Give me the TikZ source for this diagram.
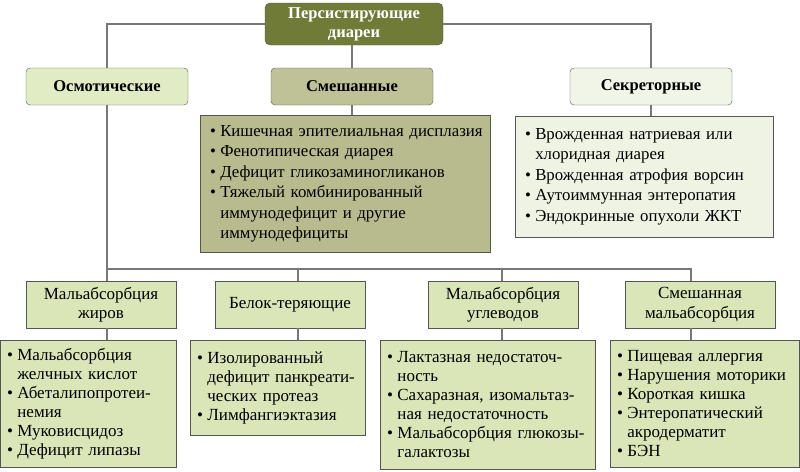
\documentclass[tikz,border=0pt]{standalone}
\usepackage{fontspec}
\setmainfont{Liberation Serif}
\usetikzlibrary{shadows}

\definecolor{topfill}{RGB}{112,123,55}
\definecolor{osmfill}{RGB}{226,236,196}
\definecolor{mixfill}{RGB}{190,194,150}
\definecolor{secfill}{RGB}{241,245,231}
\definecolor{mixlist}{RGB}{183,187,142}
\definecolor{seclist}{RGB}{238,243,227}
\definecolor{subfill}{RGB}{218,230,184}
\definecolor{boxline}{RGB}{85,85,85}
\definecolor{linkgray}{RGB}{120,120,120}

\newcommand\bul[1]{\mbox{\makebox[0.6em][l]{\textbullet}#1}}
\newcommand\ind[1]{\mbox{\hspace*{0.6em}#1}}

\begin{document}
\begin{tikzpicture}[x=1pt,y=-1pt,
    head/.style={draw=boxline, rounded corners=4pt, minimum width=162pt,
      minimum height=37pt, inner sep=0pt, font=\fontsize{16.5}{19}\selectfont\bfseries},
    biglist/.style={draw=boxline, anchor=north west, align=left, inner xsep=10pt,
      inner ysep=0pt, font=\fontsize{16.8}{20.5}\selectfont,
      drop shadow={shadow xshift=1.2pt, shadow yshift=-1.2pt, fill=black!40}},
    subbox/.style={draw=boxline, fill=subfill, minimum width=150pt, minimum height=47pt,
      inner sep=0pt, align=center, font=\fontsize{17}{19.5}\selectfont},
    sublist/.style={draw=boxline, fill=subfill, anchor=north west, align=left,
      inner xsep=7pt, inner ysep=0pt, font=\fontsize{17}{19}\selectfont},
    link/.style={draw=linkgray, line width=1.2pt}]

    \useasboundingbox (0,0) rectangle (800,471);

    % root
    \node[draw=boxline, fill=topfill, rounded corners=5pt, minimum width=178pt,
      minimum height=42pt, inner sep=0pt, align=center, text=white,
      font=\fontsize{16.5}{19}\selectfont\bfseries] (root) at (354,24)
      {Персистирующие\\диареи};

    % second level
    \node[head, fill=osmfill] (osm) at (107,86.5) {Осмотические};
    \node[head, fill=mixfill] (mix) at (352,86.5) {Смешанные};
    \node[head, fill=secfill] (sec) at (651,86.5) {Секреторные};

    \node[biglist, fill=mixlist, minimum width=290pt, minimum height=137pt,
      text width=270pt] (mixl) at (200,115)
      {\bul{Кишечная эпителиальная дисплазия}\\
       \bul{Фенотипическая диарея}\\
       \bul{Дефицит гликозаминогликанов}\\
       \bul{Тяжелый комбинированный}\\
       \ind{иммунодефицит и другие}\\
       \ind{иммунодефициты}};

    \node[biglist, fill=seclist, minimum width=258pt, minimum height=121pt,
      text width=238pt] (secl) at (515,116)
      {\bul{Врожденная натриевая или}\\
       \ind{хлоридная диарея}\\
       \bul{Врожденная атрофия ворсин}\\
       \bul{Аутоиммунная энтеропатия}\\
       \bul{Эндокринные опухоли ЖКТ}};

    % osmotic subgroups
    \node[subbox] (fat) at (101,304.5) {Мальабсорбция\\жиров};
    \node[subbox] (prot) at (290,304.5) {Белок-теряющие};
    \node[subbox] (carb) at (503,304.5) {Мальабсорбция\\углеводов};
    \node[subbox] (mixm) at (700,304.5) {Смешанная\\мальабсорбция};

    \node[sublist, minimum width=176pt, minimum height=127pt, text width=162pt]
      (fatl) at (0,340)
      {\bul{Мальабсорбция}\\
       \ind{желчных кислот}\\
       \bul{Абеталипопротеи-}\\
       \ind{немия}\\
       \bul{Муковисцидоз}\\
       \bul{Дефицит липазы}};
    \node[sublist, minimum width=175pt, minimum height=95pt, text width=161pt]
      (protl) at (190,340)
      {\bul{Изолированный}\\
       \ind{дефицит панкреати-}\\
       \ind{ческих протеаз}\\
       \bul{Лимфангиэктазия}};
    \node[sublist, minimum width=215pt, minimum height=129pt, text width=201pt]
      (carbl) at (380,340)
      {\bul{Лактазная недостаточ-}\\
       \ind{ность}\\
       \bul{Сахаразная, изомальтаз-}\\
       \ind{ная недостаточность}\\
       \bul{Мальабсорбция глюкозы-}\\
       \ind{галактозы}};
    \node[sublist, minimum width=189pt, minimum height=127pt, text width=175pt]
      (mixml) at (610,340)
      {\bul{Пищевая аллергия}\\
       \bul{Нарушения моторики}\\
       \bul{Короткая кишка}\\
       \bul{Энтеропатический}\\
       \ind{акродерматит}\\
       \bul{БЭН}};

    % connectors
    \coordinate (d1) at (107,269);
    \coordinate (d2) at (298,269);
    \coordinate (d3) at (502,269);
    \coordinate (d4) at (691,269);

    \draw[link] (root.west) -| (osm.north);
    \draw[link] (root.east) -| (sec.north);
    \draw[link] (mix.north |- root.south) -- (mix.north);
    \draw[link] (mix.south) -- (mix.south |- mixl.north);
    \draw[link] (sec.south) -- (sec.south |- secl.north);

    \draw[link] (osm.south) -- (d1) -- (d4) -- (d4 |- mixm.north);
    \draw[link] (d1) -- (d1 |- fat.north);
    \draw[link] (d2) -- (d2 |- prot.north);
    \draw[link] (d3) -- (d3 |- carb.north);

    \draw[link] (d1 |- fat.south) -- (d1 |- fatl.north);
    \draw[link] (d2 |- prot.south) -- (d2 |- protl.north);
    \draw[link] (d3 |- carb.south) -- (d3 |- carbl.north);
    \draw[link] (d4 |- mixm.south) -- (d4 |- mixml.north);
\end{tikzpicture}
\end{document}
